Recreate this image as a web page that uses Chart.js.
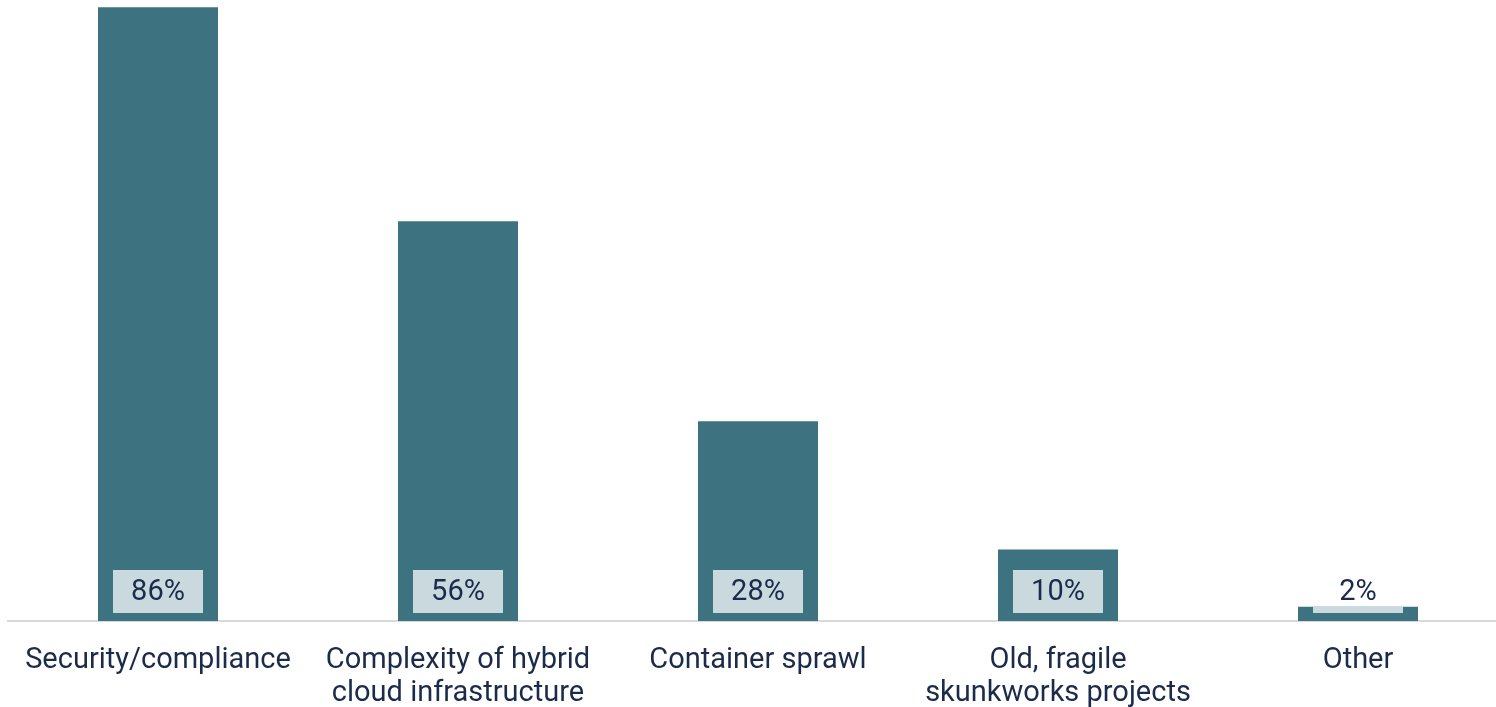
<!DOCTYPE html>
<html lang="en">
<head>
  <meta charset="UTF-8">
  <title>Challenges</title>
  <script src="https://cdn.jsdelivr.net/npm/chart.js"></script>
  <style>
    body {
      margin: 0;
      overflow: hidden;
      background: #ffffff;
    }
    .wrap {
      position: relative;
      width: 1516px;
      height: 707px;
    }
  </style>
</head>
<body>

<div class="wrap">
  <canvas id="barChart"></canvas>
</div>

<script>
const categories = [
  ['Security/compliance'],
  ['Complexity of hybrid', 'cloud infrastructure'],
  ['Container sprawl'],
  ['Old, fragile', 'skunkworks projects'],
  ['Other']
];
const values = [86, 56, 28, 10, 2];

const barColor = '#3d7380';
const boxColor = '#c9d9dd';
const textColor = '#1b2b4b';

// value label in a light box near the bottom of each bar
const valueBoxes = {
  id: 'valueBoxes',
  afterDatasetsDraw(chart) {
    const ctx = chart.ctx;
    const meta = chart.getDatasetMeta(0);
    ctx.save();
    meta.data.forEach((bar, i) => {
      const base = bar.base;
      const top = Math.max(bar.y, base - 51);
      const bottom = base - 8;
      ctx.fillStyle = boxColor;
      ctx.fillRect(bar.x - 45, top, 90, bottom - top);
      ctx.fillStyle = textColor;
      ctx.font = '29px Roboto';
      ctx.textAlign = 'center';
      ctx.textBaseline = 'middle';
      ctx.fillText(values[i] + '%', bar.x, base - 28);
    });
    ctx.restore();
  }
};

const ctx = document.getElementById('barChart').getContext('2d');
new Chart(ctx, {
  type: 'bar',
  data: {
    labels: categories,
    datasets: [{
      data: values,
      backgroundColor: barColor,
      categoryPercentage: 1,
      barPercentage: 0.4
    }]
  },
  options: {
    responsive: true,
    maintainAspectRatio: false,
    animation: false,
    layout: { padding: { left: 8, right: 8, top: 0, bottom: 0 } },
    plugins: {
      legend: { display: false },
      tooltip: { enabled: false }
    },
    scales: {
      x: {
        grid: { display: false, drawTicks: false },
        border: { display: true, color: '#d9d9d9', width: 2 },
        ticks: {
          color: textColor,
          font: { family: 'Roboto', size: 29, lineHeight: '33px' },
          padding: 23,
          maxRotation: 0,
          autoSkip: false
        },
        afterFit(scale) { scale.height = 86; }
      },
      y: {
        display: false,
        min: 0,
        max: 87
      }
    }
  },
  plugins: [valueBoxes]
});
</script>

</body>
</html>
